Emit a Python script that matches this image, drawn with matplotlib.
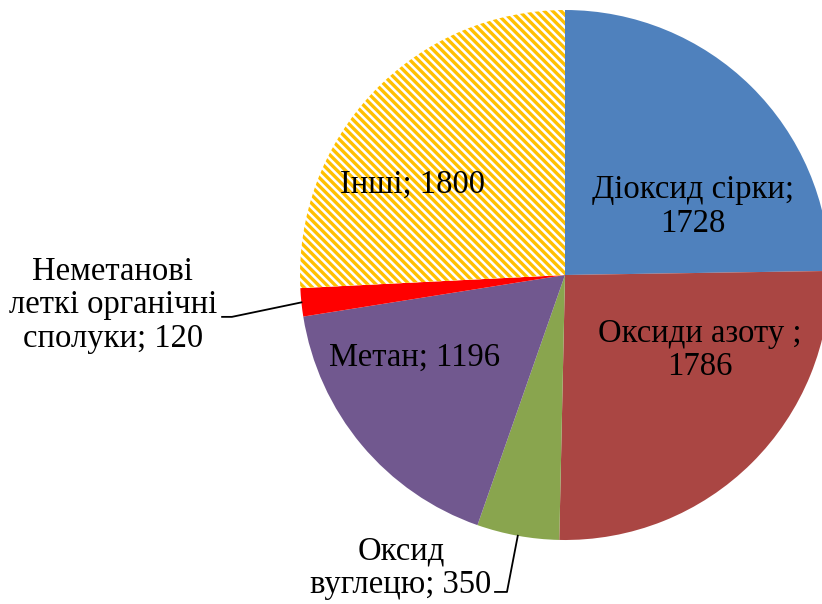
import numpy as np
import matplotlib
matplotlib.use("Agg")
import matplotlib.pyplot as plt

plt.rcParams['font.family'] = ['Liberation Serif', 'DejaVu Serif']
plt.rcParams['hatch.linewidth'] = 2.4

labels = ["Діоксид сірки;\n1728", "Оксиди азоту ;\n1786", "Оксид\nвуглецю; 350",
          "Метан; 1196", "Неметанові\nлеткі органічні\nсполуки; 120", "Інші; 1800"]
values = [1728, 1786, 350, 1196, 120, 1800]
colors = ["#4F81BD", "#AA4643", "#89A54E", "#71588F", "#FF0000", "#FFFFFF"]

# label centres in pie-radius units
label_pos = [(0.483, 0.257), (0.509, -0.283), (-0.619, -1.106),
             (-0.566, -0.313), (-1.706, -0.113), (-0.574, 0.340)]

W, H = 822, 604
cx, cy, r = 565, 275, 265

fig = plt.figure(figsize=(W / 100, H / 100), dpi=100)
ax = fig.add_axes([(cx - r) / W, (H - cy - r) / H, 2 * r / W, 2 * r / H])
ax.axis("off")

wedges, _ = ax.pie(values, colors=colors, startangle=90, counterclock=False,
                   radius=1, wedgeprops=dict(linewidth=0))
ax.set_xlim(-1, 1)
ax.set_ylim(-1, 1)
ax.set_aspect("equal")
for w in wedges:
    w.set_clip_on(False)

# "Інші" hatched
wedges[5].set_facecolor("white")
wedges[5].set_edgecolor("#FFC000")
wedges[5].set_hatch("\\" * 4)
wedges[5].set_linewidth(0)

for lab, (x, y) in zip(labels, label_pos):
    t = ax.text(x, y, lab, ha="center", va="center", fontsize=23.5,
                linespacing=1.12)
    t.set_clip_on(False)

# leader lines for small slices
def edge_point(w):
    ang = np.deg2rad((w.theta1 + w.theta2) / 2)
    return np.cos(ang), np.sin(ang)

ex, ey = edge_point(wedges[4])
ax.plot([-1.294, -1.257, ex], [-0.158, -0.158, ey], color="black", lw=1.3,
        clip_on=False)
ex, ey = edge_point(wedges[2])
ax.plot([-0.264, -0.219, ex], [-1.196, -1.196, ey], color="black", lw=1.3,
        clip_on=False)

fig.savefig("out.png", dpi=100)
